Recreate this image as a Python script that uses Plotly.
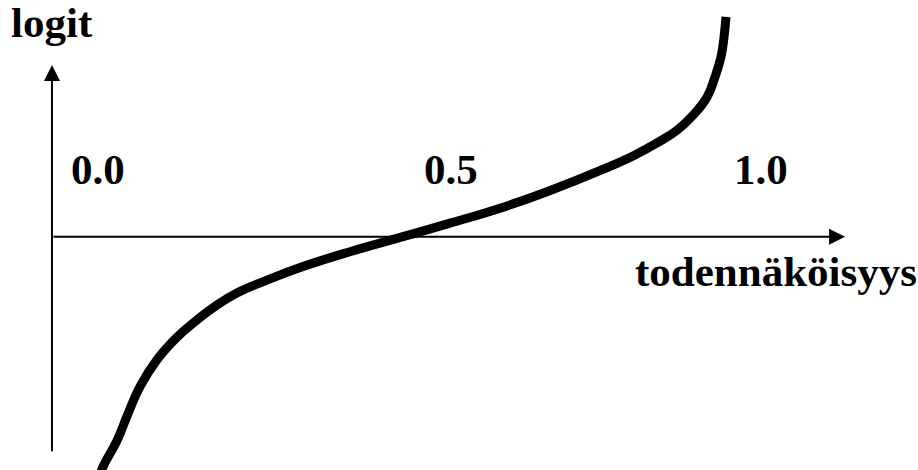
import plotly.graph_objects as go

# Probability (x) and logit (y)
prob = [0.0663, 0.0719, 0.0917, 0.1072, 0.1241, 0.1481, 0.1763, 0.2045, 0.2327,
        0.2609, 0.3032, 0.3470, 0.4203, 0.4951, 0.5614, 0.6319, 0.6982,
        0.7828, 0.8223, 0.8533, 0.8815, 0.9041, 0.9238, 0.9351, 0.9436,
        0.9478, 0.9506]
logit = [-3.22, -3.07, -2.72, -2.36, -2.00, -1.64, -1.34, -1.11, -0.91,
         -0.75, -0.58, -0.42, -0.20, 0.0, 0.18, 0.38, 0.60,
         0.92, 1.09, 1.25, 1.42, 1.62, 1.86, 2.13, 2.40,
         2.66, 2.93]

tick_labels = ["0.0", "0.5", "1.0"]
y_title = "logit"
x_title = "todennäköisyys"

FONT = dict(family="Liberation Serif, Times New Roman, serif", size=43, color="black")

fig = go.Figure()
fig.add_trace(go.Scatter(x=prob, y=logit, mode="lines",
                         line=dict(color="black", width=9, shape="spline", smoothing=1.3),
                         hoverinfo="skip", showlegend=False))

ann = []
# y axis with arrow
ann.append(dict(x=0, y=2.289, ax=0, ay=-2.88, xref="x", yref="y", axref="x", ayref="y",
                showarrow=True, arrowhead=2, arrowsize=1.6, arrowwidth=2,
                arrowcolor="black", text="", standoff=0, startstandoff=0))
# x axis with arrow
ann.append(dict(x=1.1185, y=0, ax=0, ay=0, xref="x", yref="y", axref="x", ayref="y",
                showarrow=True, arrowhead=2, arrowsize=1.6, arrowwidth=2,
                arrowcolor="black", text="", standoff=0, startstandoff=0))

def label(text, x, y):
    return dict(x=x, y=y, xref="x", yref="y", text="<b>%s</b>" % text, showarrow=False,
                xanchor="center", yanchor="middle", font=FONT)

ann.append(label(y_title, 0.0, 2.86))
tick_pos = [0.0656, 0.5628, 1.0]
for t, xp in zip(tick_labels, tick_pos):
    ann.append(label(t, xp, 0.90))
ann.append(label(x_title, 1.0205, -0.458))

fig.update_layout(
    width=918, height=470,
    margin=dict(l=0, r=0, t=0, b=0),
    paper_bgcolor="white", plot_bgcolor="white",
    xaxis=dict(range=[-0.0733, 1.2214], visible=False, fixedrange=True),
    yaxis=dict(range=[-3.111, 3.156], visible=False, fixedrange=True),
    annotations=ann,
    showlegend=False,
)

fig.write_html("out.html", config={"displayModeBar": False},
               post_script="document.body.style.margin='0px';document.body.style.overflow='hidden';")
